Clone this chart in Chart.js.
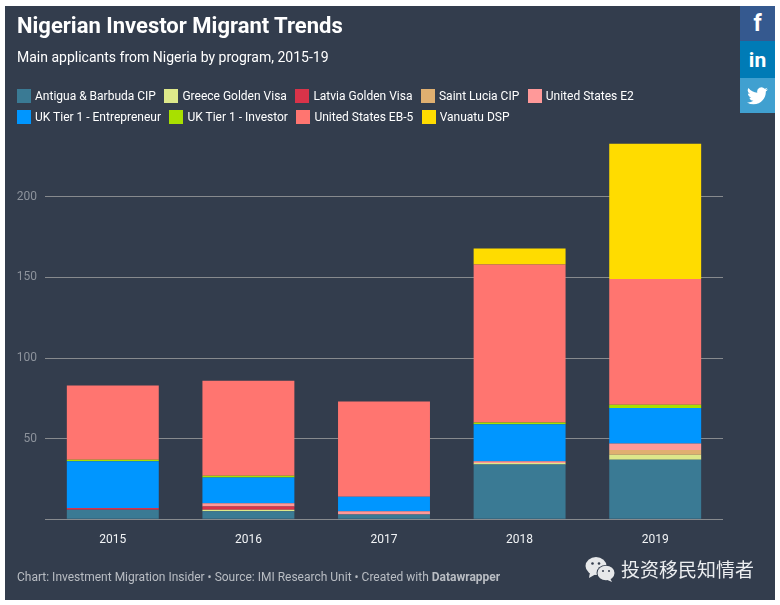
<!DOCTYPE html>
<html><head><meta charset="utf-8">
<script src="https://cdn.jsdelivr.net/npm/chart.js@4"></script>
<style>
html,body{margin:0;padding:0;background:#fff;width:780px;height:605px;overflow:hidden;font-family:Roboto,sans-serif}
#panel{position:absolute;left:5px;top:6px;width:770px;height:594px;background:#333d4d}
canvas{position:absolute;left:0;top:0}
.t{position:absolute;white-space:nowrap}
#title{left:17px;top:13px;font-size:22px;font-weight:700;color:#fff;line-height:26px}
#sub{left:17px;top:48px;font-size:14px;color:#fff;line-height:18px}
.row{position:absolute;left:17px;display:flex;font-size:12px;color:#fff;line-height:14px;white-space:nowrap}
.it{display:flex;margin-right:8.5px}
.sw{width:14px;height:14px;margin-right:4px;display:block}
#foot{left:17px;top:570px;font-size:12px;color:#b9bdc3;line-height:15px}
#foot b{font-weight:700}
#wm{left:621px;top:556px;font-size:19px;color:#eceef0;line-height:26px;font-family:"Noto Sans CJK SC",sans-serif}
.soc{position:absolute;left:740px;width:35px;display:flex;align-items:center;justify-content:center;color:#fff;font-weight:700}
</style></head><body>
<div id="panel"></div>
<canvas id="c" width="780" height="605"></canvas>
<div class="t" id="title">Nigerian Investor Migrant Trends</div>
<div class="t" id="sub">Main applicants from Nigeria by program, 2015-19</div>
<div class="row" id="r1" style="top:89px"></div>
<div class="row" id="r2" style="top:110px"></div>
<div class="t" id="foot">Chart: Investment Migration Insider • Source: IMI Research Unit • Created with <b>Datawrapper</b></div>
<svg style="position:absolute;left:585px;top:556px" width="31" height="27" viewBox="0 0 31 27">
<ellipse cx="11" cy="10" rx="10.5" ry="9" fill="#e6e8ea"/><path d="M5 16 L4 22 L11 18Z" fill="#e6e8ea"/>
<ellipse cx="21" cy="17" rx="9.5" ry="8" fill="#333d4d"/>
<ellipse cx="21" cy="17" rx="8.5" ry="7.3" fill="#e6e8ea"/><path d="M25 22 L27 26 L20 23Z" fill="#e6e8ea"/>
<circle cx="7.5" cy="7.5" r="1.3" fill="#333d4d"/><circle cx="14" cy="7.5" r="1.3" fill="#333d4d"/>
<circle cx="18" cy="15" r="1" fill="#333d4d"/><circle cx="24" cy="15" r="1" fill="#333d4d"/>
</svg>
<div class="t" id="wm">投资移民知情者</div>
<div class="soc" style="top:6px;height:35px;background:#35598f;font-size:23px">f</div>
<div class="soc" style="top:41px;height:37px;background:#007bb6;font-size:21px">in</div>
<div class="soc" style="top:78px;height:35px;background:#40a0d0">
<svg width="21" height="18" viewBox="0 0 24 20"><path fill="#fff" d="M24 2.4a9.8 9.8 0 0 1-2.8.8A4.9 4.9 0 0 0 23.300.5a9.800 9.800 0 0 1-3.100 1.200 4.900 4.900 0 0 0-8.400 4.500A14 14 0 0 1 1.700.9a4.900 4.900 0 0 0 1.500 6.600 4.900 4.900 0 0 1-2.200-.6c0 2.400 1.700 4.400 3.900 4.900a4.900 4.900 0 0 1-2.200.1 4.900 4.900 0 0 0 4.600 3.400A9.900 9.900 0 0 1 0 17.300 14 14 0 0 0 7.500 19.500c9.100 0 14.300-7.700 14-14.600A10 10 0 0 0 24 2.400z"/></svg></div>
<script>
const years = ['2015','2016','2017','2018','2019'];
const yTicks = [50,100,150,200];
const names = ['Antigua & Barbuda CIP','Greece Golden Visa','Latvia Golden Visa','Saint Lucia CIP','United States E2','UK Tier 1 - Entrepreneur','UK Tier 1 - Investor','United States EB-5','Vanuatu DSP'];
const colors = ['#3a7a94','#dde88a','#d93349','#e0b070','#ff9999','#0096ff','#a8e000','#ff7570','#ffdc00'];
const antigua = [6,5,3,34,37];
const greece = [0,1,0,1,3];
const latvia = [1,2,0,0,0];
const saintLucia = [0,0,0,0,3];
const usE2 = [0,2,2,1,4];
const ukEntrepreneur = [29,16,9,23,22];
const ukInvestor = [1,1,0,1,2];
const usEB5 = [46,59,59,98,78];
const vanuatu = [0,0,0,10,84];
const values = [antigua,greece,latvia,saintLucia,usE2,ukEntrepreneur,ukInvestor,usEB5,vanuatu];

names.forEach((n,i)=>{
  const it=document.createElement('div');it.className='it';
  const s=document.createElement('span');s.className='sw';s.style.background=colors[i];
  const l=document.createElement('span');l.textContent=n;
  it.append(s,l);
  document.getElementById(i<5?'r1':'r2').append(it);
});

new Chart(document.getElementById('c'),{
  type:'bar',
  data:{labels:years,datasets:names.map((n,i)=>({label:n,data:values[i],backgroundColor:colors[i],borderWidth:0,categoryPercentage:1,barPercentage:0.678}))},
  options:{
    responsive:false,animation:false,
    layout:{padding:{top:132.4,right:57,left:0,bottom:0}},
    plugins:{legend:{display:false},title:{display:false},tooltip:{enabled:false}},
    scales:{
      x:{stacked:true,grid:{display:false},border:{display:false},
         afterFit:s=>{s.height=85.7},
         ticks:{color:'#f2f4f6',font:{family:'Roboto',size:12},padding:5,maxRotation:0}},
      y:{stacked:true,min:0,max:240,
         afterFit:s=>{s.width=45},
         border:{display:false},
         grid:{color:'#878a8e',lineWidth:1,drawTicks:false},
         afterBuildTicks:s=>{s.ticks=[0,...yTicks].map(v=>({value:v}))},
         ticks:{color:'#8d939c',font:{family:'Roboto',size:12},padding:8,callback:v=>v===0?'':v}}
    }
  }
});
</script>
</body></html>
